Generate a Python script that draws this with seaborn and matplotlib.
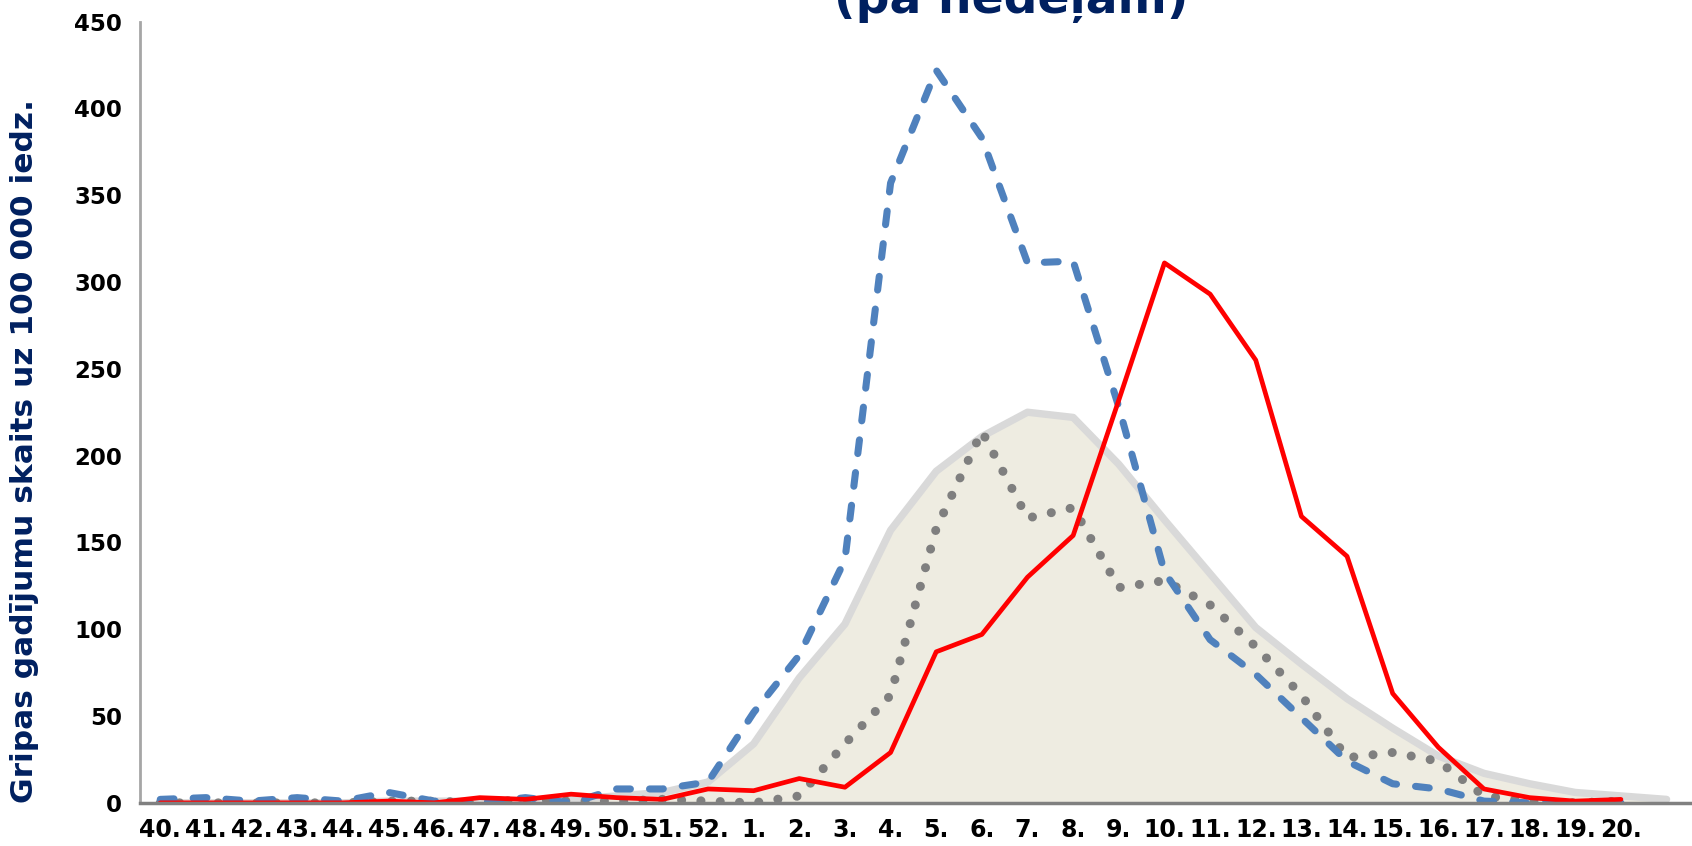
import numpy as np
import pandas as pd
import seaborn as sns
from matplotlib import pyplot as plt

# nedēļas (40.-52. un 1.-20.), pēdējais punkts vidējai līknei bez paraksta
nedelas = [f"{n}." for n in list(range(40, 53)) + list(range(1, 21))]

# vidējais rādītājs (pelēkais laukums)
videjais = [0, 0, 0, 0, 0, 1, 1, 1, 1, 2, 4, 6, 12, 34, 72, 103, 157, 191, 211, 225,
            222, 195, 163, 132, 101, 80, 60, 43, 27, 17, 11, 6, 4, 2]

# iepriekšējā sezona (zilā raustītā līnija)
sezona_zila = [2, 3, 1, 3, 1, 6, 1, 0, 3, 0, 8, 8, 12, 52, 85, 140, 357, 422, 383, 311,
               312, 228, 133, 94, 74, 49, 24, 11, 8, 1, 0, 0, 0]

# cita sezona (pelēkā punktētā līnija)
sezona_peleka = [0, 0, 0, 0, 0, 1, 1, 0, 2, 1, 1, 2, 1, 0, 4, 34, 62, 158, 214, 164,
                 170, 124, 128, 114, 90, 62, 26, 29, 24, 4, 1, 0, 1]

# pašreizējā sezona (sarkanā līnija)
sezona_sarkana = [0, 0, 0, 0, 0, 1, 0, 3, 2, 5, 3, 2, 8, 7, 14, 9, 29, 87, 97, 130,
                  154, 232, 311, 293, 255, 165, 142, 63, 32, 8, 3, 1, 2]

ylabel = "Gripas gadījumu skaits uz 100 000 iedz."
virsraksts = "(pa nedēļām)"
navy = "#002060"

sns.set_style("white")
plt.rcParams['font.family'] = ['DejaVu Sans']

fig = plt.figure(figsize=(16.92, 8.46), dpi=100)
ax = fig.add_axes([140 / 1692, 0.051, 1 - 140 / 1692, 0.9235])

x_vid = np.arange(len(videjais))
x = np.arange(len(sezona_sarkana))

ax.fill_between(x_vid, videjais, 0, color="#EEECE1", linewidth=0, zorder=1)
sns.lineplot(x=x_vid, y=videjais, ax=ax, color="#D9D9D9", linewidth=5.3, zorder=2)
ln_vid = ax.lines[-1]
ln_vid.set_solid_capstyle("round")
ln_vid.set_solid_joinstyle("round")

sns.lineplot(x=x, y=sezona_peleka, ax=ax, color="#7F7F7F", zorder=3)
ln_pel = ax.lines[-1]
ln_pel.set_linewidth(6.5)
ln_pel.set_linestyle((0, (0.01, 2.13)))
ln_pel.set_dash_capstyle("round")

sns.lineplot(x=x, y=sezona_zila, ax=ax, color="#4F81BD", zorder=4)
ln_zil = ax.lines[-1]
ln_zil.set_linewidth(5.1)
ln_zil.set_linestyle((0, (1.95, 2.7)))
ln_zil.set_dash_capstyle("round")
ln_zil.set_dash_joinstyle("round")

sns.lineplot(x=x, y=sezona_sarkana, ax=ax, color="#FF0000", linewidth=3.4, zorder=5)

ax.set_xlim(-0.443, 33.557)
ax.set_ylim(0, 450)
ax.set_xticks(x)
ax.set_xticklabels(nedelas, fontsize=17, fontweight="bold", color="black")
ax.set_yticks(np.arange(0, 451, 50))
ax.tick_params(axis="y", labelsize=16.5, labelcolor="black", length=0, pad=13)
ax.tick_params(axis="x", length=0, pad=11)
for lbl in ax.get_yticklabels():
    lbl.set_fontweight("bold")

ax.set_ylabel(ylabel, fontsize=22.5, fontweight="bold", color=navy)
ax.yaxis.set_label_coords(-0.065, 0.45)
ax.set_xlabel("")

for side in ["top", "right"]:
    ax.spines[side].set_visible(False)
ax.spines["left"].set_color("#A6A6A6")
ax.spines["left"].set_linewidth(2)
ax.spines["bottom"].set_color("#808080")
ax.spines["bottom"].set_linewidth(2.5)
ax.spines["bottom"].set_zorder(6)

fig.text(1011 / 1692, 1 - 13 / 846, virsraksts, ha="center", va="baseline",
         fontsize=34, fontweight="bold", color=navy)

fig.savefig("out.png", dpi=100)
